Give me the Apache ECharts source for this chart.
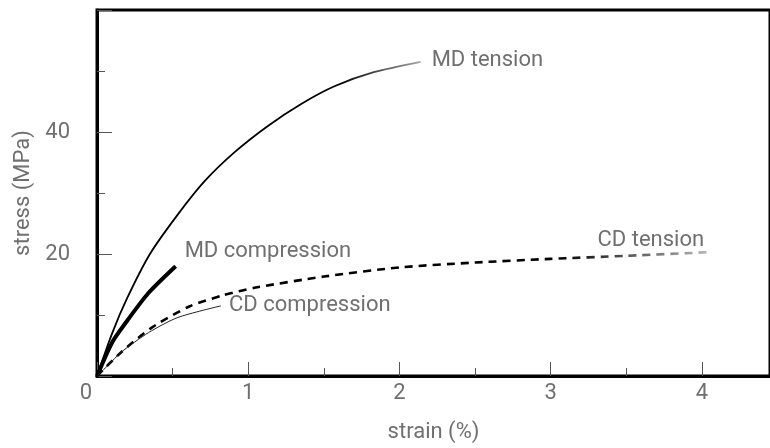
<!DOCTYPE html>
<html>
<head>
<meta charset="utf-8">
<script src="https://cdn.jsdelivr.net/npm/echarts@6/dist/echarts.min.js"></script>
<style>
html, body { margin: 0; padding: 0; background: #fff; }
#chart { width: 770px; height: 448px; }
</style>
</head>
<body>
<div id="chart"></div>
<script>
// strain (%) / stress (MPa)
var mdTension = [[0, 0], [0.1, 7], [0.2, 12.8], [0.35, 20], [0.535, 26.5], [0.71, 31.9], [0.91, 36.7],
	[1.13, 41], [1.35, 44.6], [1.57, 47.5], [1.83, 49.8], [2.14, 51.5]];
var mdCompression = [[0, 0], [0.1, 5.5], [0.18, 8.4], [0.34, 13.6], [0.52, 18]];
var cdTension = [[0, 0], [0.16, 3.9], [0.36, 7.9], [0.61, 11.4], [0.83, 13.2], [1.05, 14.5], [1.5, 16.3],
	[2, 17.8], [2.5, 18.6], [3, 19.2], [3.5, 19.7], [4.05, 20.3]];
var cdCompression = [[0, 0], [0.075, 1.8], [0.16, 3.9], [0.34, 7.1], [0.535, 9.6], [0.82, 11.5]];
var seriesNames = ['MD tension', 'MD compression', 'CD tension', 'CD compression'];
var yTicks = [0, 20, 40];
var xTicks = [0, 1, 2, 3, 4];

var grey = '#707070';
var font = 'Roboto';

function fade(c1, c2) {
	return new echarts.graphic.LinearGradient(0, 0, 1, 0, [
		{ offset: 0, color: c1 },
		{ offset: 0.75, color: c1 },
		{ offset: 1, color: c2 }
	]);
}

function lbl(offset) {
	return {
		show: true,
		formatter: '{a}',
		color: grey,
		fontFamily: font,
		fontSize: 22,
		distance: 6,
		offset: offset
	};
}

function curve(name, data, style, label) {
	return {
		name: name,
		type: 'line',
		smooth: 0.25,
		showSymbol: false,
		data: data,
		lineStyle: style,
		endLabel: label
	};
}

var chart = echarts.init(document.getElementById('chart'));
chart.setOption({
	animation: false,
	grid: {
		left: 97,
		top: 10,
		right: -6,
		bottom: 67,
		show: true,
		borderColor: '#000',
		borderWidth: 3
	},
	xAxis: {
		type: 'value',
		min: 0,
		max: 4.45,
		interval: 1,
		name: 'strain (%)',
		nameLocation: 'middle',
		nameGap: 45,
		nameTextStyle: { color: grey, fontFamily: font, fontSize: 22 },
		axisLine: { lineStyle: { color: '#000', width: 3 } },
		axisTick: { inside: true, length: 14, lineStyle: { color: '#555', width: 1 } },
		minorTick: { show: true, splitNumber: 2, length: 8, lineStyle: { color: '#555', width: 1 } },
		splitLine: { show: false },
		axisLabel: {
			color: grey,
			fontFamily: font,
			fontSize: 22,
			margin: 6,
			showMaxLabel: false,
			formatter: function(v) {
				if (xTicks.indexOf(v) < 0) return '';
				if (v === 0) return '{o|0}';
				return String(v);
			},
			rich: { o: { color: grey, fontFamily: font, fontSize: 22, padding: [0, 22, 0, 0] } }
		}
	},
	yAxis: {
		type: 'value',
		min: 0,
		max: 60,
		interval: 20,
		name: 'stress (MPa)',
		nameLocation: 'middle',
		nameGap: 62,
		nameTextStyle: { color: grey, fontFamily: font, fontSize: 22 },
		axisLine: { lineStyle: { color: '#000', width: 3 } },
		axisTick: { inside: true, length: 15, lineStyle: { color: '#555', width: 1 } },
		minorTick: { show: true, splitNumber: 2, length: 8, lineStyle: { color: '#555', width: 1 } },
		splitLine: { show: false },
		axisLabel: {
			color: grey,
			fontFamily: font,
			fontSize: 22,
			margin: 27,
			formatter: function(v) {
				return (v !== 0 && yTicks.indexOf(v) >= 0) ? String(v) : '';
			}
		}
	},
	series: [
		curve(seriesNames[0], mdTension, { color: fade('#000', '#aaa'), width: 1.8 }, lbl([5, -1])),
		curve(seriesNames[1], mdCompression, { color: '#000', width: 4 }, lbl([3, -15])),
		curve(seriesNames[2], cdTension, { color: fade('#000', '#bbb'), width: 2.6, type: [8, 6] }, lbl([-118, -12])),
		curve(seriesNames[3], cdCompression, { color: '#222', width: 1 }, lbl([2, 0]))
	]
});
</script>
</body>
</html>
